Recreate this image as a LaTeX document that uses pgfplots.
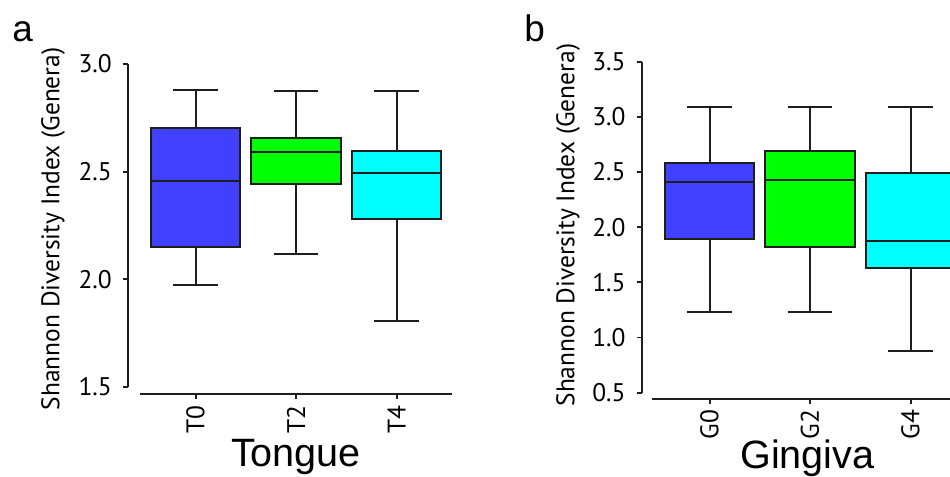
\documentclass[border=0pt]{standalone}
\usepackage{fontspec}
\setmainfont{PT Sans}
\newfontfamily\arialf{Liberation Sans}
\usepackage{pgfplots}
\pgfplotsset{compat=1.18}
\usepgfplotslibrary{statistics}

\definecolor{boxblue}{RGB}{64,64,255}
\definecolor{boxgreen}{RGB}{0,255,0}
\definecolor{boxcyan}{RGB}{0,255,255}
\definecolor{linegray}{RGB}{30,30,30}

% 1 px of the reference = 0.02cm
\pgfplotsset{
  panel/.style={
    scale only axis,
    anchor=south west,
    axis lines*=left,
    axis line style={draw=none},
    tick align=outside,
    major tick length=0.1cm,
    tick style={linegray, line width=1.1pt},
    xtick={0,1,2},
    x tick label style={rotate=90, anchor=east, font=\fontsize{14.5}{16}\selectfont},
    y tick label style={font=\fontsize{14.5}{16}\selectfont, xshift=-0.1cm},
    yticklabel style={/pgf/number format/.cd, fixed, fixed zerofill, precision=1, assume math mode=true},
    ylabel={Shannon Diversity Index (Genera)},
    ylabel style={font=\fontsize{14.5}{16}\selectfont, anchor=center},
    xlabel style={font=\arialf\fontsize{22.5}{26}\selectfont, anchor=base},
    clip=false,
    boxplot/draw direction=y,
    boxplot/box extend=0.89,
    boxplot/whisker extend=0.44,
  },
  bx/.style={draw=linegray, line width=1.1pt, fill=#1, solid},
}

\begin{document}
\begin{tikzpicture}

% panel a: tongue
\begin{axis}[panel,
  at={(2.56cm,-7.88cm)},
  width=6.48cm, height=6.6cm,
  xmin=-0.672, xmax=2.552, ymin=1.4675, ymax=3.0,
  ytick={1.5,2.0,2.5,3.0},
  xticklabels={T0,T2,T4},
  xlabel={Tongue},
  xlabel style={at={(axis description cs:0.5185,-0.221)}},
  ylabel style={at={(axis description cs:-0.231,0.5)}},
]
\addplot[bx=boxblue, boxplot prepared={draw position=0,
  lower whisker=1.973, lower quartile=2.152, median=2.458,
  upper quartile=2.704, upper whisker=2.878}] coordinates {};
\addplot[bx=boxgreen, boxplot prepared={draw position=1,
  lower whisker=2.116, lower quartile=2.442, median=2.591,
  upper quartile=2.656, upper whisker=2.876}] coordinates {};
\addplot[bx=boxcyan, boxplot prepared={draw position=2,
  lower whisker=1.805, lower quartile=2.282, median=2.493,
  upper quartile=2.594, upper whisker=2.876}] coordinates {};
\draw[linegray, line width=1.1pt] (axis cs:-0.672,1.5) -- (axis cs:-0.672,3.0);
\draw[linegray, line width=1.1pt] (axis cs:-0.552,1.4675) -- (axis cs:2.552,1.4675);
\end{axis}

% panel b: gingiva
\begin{axis}[panel,
  at={(12.834cm,-7.974cm)},
  width=6.486cm, height=6.74cm,
  xmin=-0.675, xmax=2.552, ymin=0.4456, ymax=3.5,
  ytick={0.5,1.0,1.5,2.0,2.5,3.0,3.5},
  xticklabels={G0,G2,G4},
  xlabel={Gingiva},
  xlabel style={at={(axis description cs:0.511,-0.2086)}},
  ylabel style={at={(axis description cs:-0.227,0.515)}},
]
\addplot[bx=boxblue, boxplot prepared={draw position=0,
  lower whisker=1.233, lower quartile=1.895, median=2.412,
  upper quartile=2.584, upper whisker=3.089}] coordinates {};
\addplot[bx=boxgreen, boxplot prepared={draw position=1,
  lower whisker=1.233, lower quartile=1.823, median=2.428,
  upper quartile=2.693, upper whisker=3.089}] coordinates {};
\addplot[bx=boxcyan, boxplot prepared={draw position=2,
  lower whisker=0.877, lower quartile=1.632, median=1.877,
  upper quartile=2.488, upper whisker=3.089}] coordinates {};
\draw[linegray, line width=1.1pt] (axis cs:-0.675,0.5) -- (axis cs:-0.675,3.5);
\draw[linegray, line width=1.1pt] (axis cs:-0.572,0.4456) -- (axis cs:2.552,0.4456);
\end{axis}

\node[anchor=base west, inner sep=0pt, font=\arialf\fontsize{21}{24}\selectfont] at (0.24cm,-0.84cm) {a};
\node[anchor=base west, inner sep=0pt, font=\arialf\fontsize{21}{24}\selectfont] at (10.48cm,-0.84cm) {b};

\pgfresetboundingbox
\path[use as bounding box] (0,0) rectangle (19cm,-9.54cm);
\end{tikzpicture}
\end{document}
